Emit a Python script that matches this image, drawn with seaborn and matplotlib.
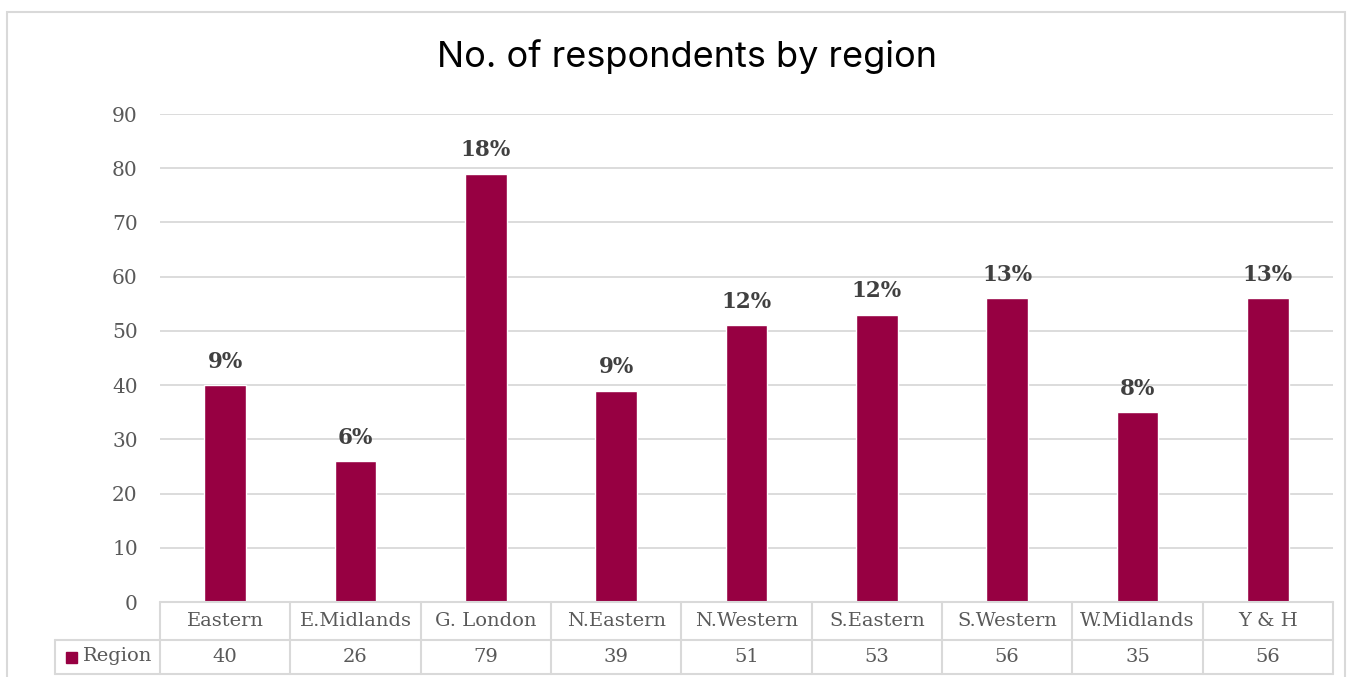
import matplotlib
matplotlib.use("Agg")
import matplotlib.pyplot as plt
from matplotlib.patches import Rectangle
import seaborn as sns
import pandas as pd

# -----------------------------
# Data
# -----------------------------

regions = ["Eastern", "E.Midlands", "G. London", "N.Eastern", "N.Western",
           "S.Eastern", "S.Western", "W.Midlands", "Y & H"]
respondents = [40, 26, 79, 39, 51, 53, 56, 35, 56]
series_name = "Region"
y_ticks = [0, 10, 20, 30, 40, 50, 60, 70, 80, 90]

df = pd.DataFrame({"region": regions, "count": respondents})
total = sum(respondents)
df["pct"] = [f"{round(v / total * 100):.0f}%" for v in respondents]

# -----------------------------
# Style
# -----------------------------

sns.set_style("white")
bar_color = "#970042"
grid_color = "#d9d9d9"
text_color = "#595959"
serif = "DejaVu Serif"

fig = plt.figure(figsize=(13.51, 6.77), dpi=100)
ax = fig.add_axes([160 / 1351, 75 / 677, (1333 - 160) / 1351, (602 - 114) / 677])

sns.barplot(data=df, x="region", y="count", color=bar_color, width=0.32,
            saturation=1, ax=ax, zorder=3)

ax.set_ylim(0, 90)
ax.set_xlim(-0.5, len(regions) - 0.5)
ax.set_yticks(y_ticks)
ax.set_yticklabels([str(t) for t in y_ticks], fontsize=14.5, family=serif,
                   color=text_color)
ax.tick_params(axis="y", length=0, pad=16)
ax.set_xticks([])
ax.set_xlabel("")
ax.set_ylabel("")
for t in y_ticks[1:]:
    ax.axhline(t, color=grid_color, lw=1.3, zorder=1)
for s in ax.spines.values():
    s.set_visible(False)

# percentage labels
for i, (v, p) in enumerate(zip(df["count"], df["pct"])):
    ax.annotate(p, (i, v), xytext=(0, 9), textcoords="offset points",
                ha="center", va="bottom", fontsize=15.5, fontweight="bold",
                family=serif, color="#404040")

# -----------------------------
# Data table under the axis
# -----------------------------

tr = ax.get_xaxis_transform()
h1 = -38 / 488
h2 = -72 / 488
left_edge = -0.5 + (55 - 160) / ((1333 - 160) / 9)
n = len(regions)
lkw = dict(color=grid_color, lw=1.5, transform=tr, clip_on=False, zorder=4)

ax.plot([-0.5, n - 0.5], [0, 0], **lkw)
ax.plot([left_edge, n - 0.5], [h1, h1], **lkw)
ax.plot([left_edge, n - 0.5], [h2, h2], **lkw)
for i in range(n + 1):
    ax.plot([i - 0.5, i - 0.5], [0, h2], **lkw)
ax.plot([left_edge, left_edge], [h1, h2], **lkw)

for i, (r, v) in enumerate(zip(regions, respondents)):
    ax.text(i, h1 / 2, r, transform=tr, ha="center", va="center",
            fontsize=14, family=serif, color=text_color)
    ax.text(i, (h1 + h2) / 2, str(v), transform=tr, ha="center", va="center",
            fontsize=14, family=serif, color=text_color)

# legend key inside the table
fig.patches.append(Rectangle((66 / 1351, 1 - 663 / 677), 11 / 1351, 11 / 677,
                             transform=fig.transFigure, color=bar_color))
fig.text(83 / 1351, 1 - 656 / 677, series_name, ha="left", va="center",
         fontsize=14, family=serif, color=text_color)

# -----------------------------
# Title and outer border
# -----------------------------

fig.text(687 / 1351, 1 - 57 / 677, "No. of respondents by region",
         ha="center", va="center", fontsize=26, family="Inter", color="#000000")

fig.patches.append(Rectangle((7 / 1351, -0.05), 1338 / 1351, 1 - 12 / 677 + 0.05,
                             transform=fig.transFigure, fill=False,
                             edgecolor=grid_color, lw=1.5))

plt.savefig("out.png", dpi=100)
